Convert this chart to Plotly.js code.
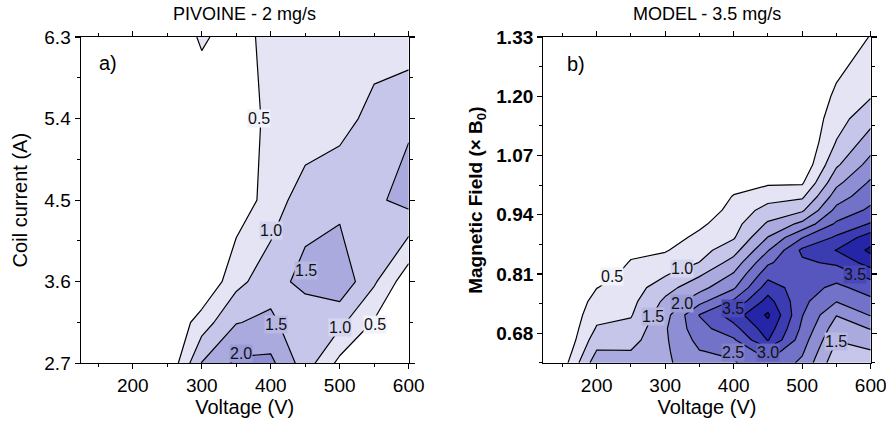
<!DOCTYPE html>
<html>
<head>
<meta charset="utf-8">
<script src="https://cdn.plot.ly/plotly-3.0.1.min.js"></script>
<style>html,body{margin:0;padding:0;background:#fff;}#chart{width:886px;height:421px;}</style>
</head>
<body>
<div id="chart"></div>
<script>
// ---------- Panel a) PIVOINE - 2 mg/s ----------
const voltA = [150, 200, 250, 300, 350, 400, 450, 500, 550, 600];
const currentA = [2.7, 3.15, 3.6, 4.5, 5.4, 6.3];
const densityA = [
  [0, 0, 0.02, 1.52, 2.10, 2.12, 1.25, 0.36, 0.10, 0.05],
  [0, 0, 0,    0.74, 1.48, 1.60, 1.15, 1.12, 0.45, 0.10],
  [0, 0, 0,    0,    0.85, 1.30, 1.65, 1.86, 1.07, 0.167],
  [0, 0, 0,    0,    0.20, 0.70, 1.30, 1.35, 1.406, 1.667],
  [0, 0, 0,    0.25, 0.30, 0.58, 0.60, 0.825, 1.15, 1.43],
  [0, 0, 0.20, 0.55, 0.34, 0.626, 0.70, 0.72, 0.795, 0.71]
];
const labelTextA = ['0.5', '1.0', '1.5', '1.5', '2.0', '1.0', '0.5'];
const labelXA = [383, 400, 451, 407, 357, 501, 551];
const labelYA = [5.4, 4.17, 3.72, 3.13, 2.81, 3.1, 3.13];

// ---------- Panel b) MODEL - 3.5 mg/s ----------
const voltB = [150, 200, 250, 300, 350, 400, 450, 500, 550, 600];
const fieldB = [0.615, 0.64, 0.665, 0.69, 0.72, 0.75, 0.78, 0.81, 0.835, 0.862, 0.89,
                0.92, 0.95, 0.98, 1.01, 1.05, 1.10, 1.15, 1.20, 1.26, 1.33];
const densityB = [
  [0.25, 1.81, 1.85, 1.90, 2.35, 2.45, 2.90, 2.40, 1.15, 1.30],
  [0.11, 1.53, 1.52, 1.915, 2.48, 2.605, 3.25, 2.57, 1.325, 1.467],
  [0,    1.29, 1.32, 1.93, 2.65, 2.93, 4.03, 2.73, 1.52, 1.72],
  [0,    1.05, 1.14, 1.944, 2.82, 3.33, 4.28, 2.89, 1.73, 2.02],
  [0,    0.85, 0.963, 1.81, 3.02, 3.75, 4.58, 3.025, 2.02, 2.535],
  [0,    0.673, 0.852, 1.60, 2.34, 3.08, 4.19, 3.13, 2.52, 2.88],
  [0,    0.49, 0.74, 1.31, 1.83, 2.43, 3.76, 3.23, 2.875, 3.23],
  [0,    0.28, 0.63, 0.94, 1.42, 2.04, 3.30, 3.33, 3.25, 3.69],
  [0,    0.105, 0.537, 0.70, 1.01, 1.70, 2.92, 3.42, 3.58, 4.25],
  [0,    0,    0.387, 0.46, 0.815, 1.30, 2.47, 3.60, 4.02, 4.60],
  [0,    0,    0.20, 0.27, 0.62, 0.953, 2.02, 2.98, 3.58, 4.27],
  [0,    0,    0,    0.07, 0.40, 0.81, 1.57, 2.125, 3.08, 3.54],
  [0,    0,    0,    0,    0.16, 0.673, 1.19, 1.42, 2.64, 3.10],
  [0,    0,    0,    0,    0,    0.533, 0.80, 0.91, 2.25, 2.82],
  [0,    0,    0,    0,    0,    0.283, 0.43, 0.44, 1.875, 2.58],
  [0,    0,    0,    0,    0,    0,    0,    0.088, 1.42, 2.18],
  [0,    0,    0,    0,    0,    0,    0,    0,    1.02, 1.74],
  [0,    0,    0,    0,    0,    0,    0,    0,    0.80, 1.33],
  [0,    0,    0,    0,    0,    0,    0,    0,    0.597, 0.964],
  [0,    0,    0,    0,    0,    0,    0,    0,    0.40, 0.75],
  [0,    0,    0,    0,    0,    0,    0,    0,    0.20, 0.52]
];
const labelTextB = ['0.5', '1.0', '1.5', '2.0', '3.5', '2.5', '3.0', '3.5', '1.5'];
const labelXB = [223, 325, 282, 324, 399, 399, 450, 577, 550];
const labelYB = [0.804, 0.822, 0.717, 0.746, 0.735, 0.638, 0.638, 0.808, 0.662];

const xTicks = [200, 300, 400, 500, 600];
const yTicksA = [2.7, 3.6, 4.5, 5.4, 6.3];
const yTicksB = [0.68, 0.81, 0.94, 1.07, 1.20, 1.33];
const yTickTextB = ['0.68', '0.81', '0.94', '1.07', '1.20', '1.33'];

// ---------- styling ----------
const bandColors = ['#ffffff', '#e4e4f4', '#c6c6ea', '#aaaadf', '#8e8ed4',
                    '#7272c9', '#5656be', '#3b3bb2', '#2525a7', '#13139c'];
const colorscale = bandColors.map((c, i) => [i / (bandColors.length - 1), c]);
// label background = blend of the two bands the labelled line separates
const labelBg = {
  '0.5': '#f2f2fa', '1.0': '#d5d5ef', '1.5': '#b8b8e4', '2.0': '#9c9cd9',
  '2.5': '#8080ce', '3.0': '#6464c3', '3.5': '#4848b8'
};
const FONT = 'Liberation Sans, Arial, sans-serif';

function contourTrace(x, y, z, xa, ya) {
  return {
    type: 'contour', x: x, y: y, z: z, xaxis: xa, yaxis: ya,
    autocontour: false,
    contours: {start: 0.5, end: 4.5, size: 0.5, coloring: 'fill', showlabels: false},
    colorscale: colorscale, showscale: false,
    line: {color: '#000', width: 1.2, smoothing: 0},
    hoverinfo: 'skip'
  };
}

function axisBase() {
  return {
    showline: true, linecolor: '#000', linewidth: 1.2, mirror: 'allticks',
    ticks: 'outside', ticklen: 5, tickwidth: 1.2, tickcolor: '#000',
    showgrid: false, zeroline: false, ticklabeloverflow: 'allow',
    tickfont: {family: FONT, size: 19, color: '#000'}
  };
}

const xa1 = Object.assign(axisBase(), {
  domain: [0.0911, 0.4613], range: [124.6, 600], anchor: 'y',
  tickmode: 'array', tickvals: xTicks,
  minor: {dtick: 50, tick0: 0, ticks: 'outside', ticklen: 3, tickwidth: 1, tickcolor: '#000'},
  title: {text: 'Voltage (V)', font: {family: FONT, size: 20, color: '#000'}, standoff: 3}
});
const ya1 = Object.assign(axisBase(), {
  domain: [0.1371, 0.9121], range: [2.7, 6.3], anchor: 'x',
  tickmode: 'array', tickvals: yTicksA, ticktext: yTicksA.map(v => v.toFixed(1)),
  minor: {dtick: 0.45, tick0: 2.7, ticks: 'outside', ticklen: 3, tickwidth: 1, tickcolor: '#000'},
  title: {text: 'Coil current (A)', font: {family: FONT, size: 20, color: '#000'}, standoff: 11}
});
const xa2 = Object.assign(axisBase(), {
  domain: [0.6132, 0.9827], range: [122, 600], anchor: 'y2',
  tickmode: 'array', tickvals: xTicks,
  minor: {dtick: 50, tick0: 0, ticks: 'outside', ticklen: 3, tickwidth: 1, tickcolor: '#000'},
  title: {text: 'Voltage (V)', font: {family: FONT, size: 20, color: '#000'}, standoff: 3}
});
const ya2 = Object.assign(axisBase(), {
  domain: [0.1371, 0.9121], range: [0.614, 1.33], anchor: 'x2',
  tickmode: 'array', tickvals: yTicksB, ticktext: yTickTextB.map(t => '<b>' + t + '</b>'),
  minor: {dtick: 0.065, tick0: 0.68, ticks: 'outside', ticklen: 3, tickwidth: 1, tickcolor: '#000'},
  title: {text: '<b>Magnetic Field (\u00d7 B<sub>0</sub>)</b>', font: {family: FONT, size: 19, color: '#000'}, standoff: 8}
});

function labelAnnots(texts, xs, ys, xref, yref) {
  return texts.map((t, i) => ({
    text: t, x: xs[i], y: ys[i], xref: xref, yref: yref, showarrow: false,
    font: {family: FONT, size: 16, color: '#111'},
    bgcolor: labelBg[t], borderpad: 0
  }));
}

const annotations = [
  {text: 'PIVOINE - 2 mg/s', x: 244.7 / 886, y: 1 - 14 / 421, xref: 'paper', yref: 'paper',
   showarrow: false, font: {family: FONT, size: 18, color: '#000'}, xanchor: 'center', yanchor: 'middle'},
  {text: 'MODEL - 3.5 mg/s', x: 707 / 886, y: 1 - 14 / 421, xref: 'paper', yref: 'paper',
   showarrow: false, font: {family: FONT, size: 18, color: '#000'}, xanchor: 'center', yanchor: 'middle'},
  {text: 'a)', x: 164.6, y: 6.01, xref: 'x', yref: 'y', showarrow: false,
   font: {family: FONT, size: 20, color: '#000'}},
  {text: 'b)', x: 169.3, y: 1.27, xref: 'x2', yref: 'y2', showarrow: false,
   font: {family: FONT, size: 20, color: '#000'}}
].concat(labelAnnots(labelTextA, labelXA, labelYA, 'x', 'y'))
 .concat(labelAnnots(labelTextB, labelXB, labelYB, 'x2', 'y2'));

const layout = {
  width: 886, height: 421,
  margin: {l: 0, r: 0, t: 0, b: 0},
  paper_bgcolor: '#fff', plot_bgcolor: '#fff',
  showlegend: false,
  font: {family: FONT, color: '#000'},
  xaxis: xa1, yaxis: ya1, xaxis2: xa2, yaxis2: ya2,
  annotations: annotations
};

Plotly.newPlot('chart', [
  contourTrace(voltA, currentA, densityA, 'x', 'y'),
  contourTrace(voltB, fieldB, densityB, 'x2', 'y2')
], layout, {staticPlot: true, displayModeBar: false});
</script>
</body>
</html>
